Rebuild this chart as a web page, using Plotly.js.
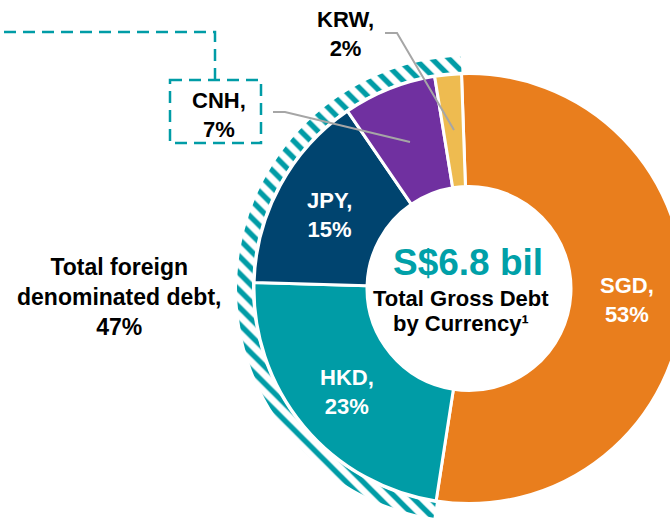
<!DOCTYPE html>
<html>
<head>
<meta charset="utf-8">
<script src="https://cdn.plot.ly/plotly-3.0.1.min.js"></script>
<style>
  html, body { margin: 0; padding: 0; overflow: hidden; background: #fff; }
  #chart { width: 720px; height: 540px; }
</style>
</head>
<body>
<div id="chart"></div>
<script>
// ---- data ----
const labels = ['SGD', 'HKD', 'JPY', 'CNH', 'KRW'];
const values = [53, 23, 15, 7, 2];
const foreignLabel = 'Total foreign';
const foreignLabel2 = 'denominated debt,';
const totalDebt = 'S$6.8 bil';
const centerLine1 = 'Total Gross Debt';
const centerLine2 = 'by Currency\u00B9';

// ---- styling ----
const colors = ['#E97E1D', '#009CA6', '#00446F', '#7030A0', '#EEBB50'];
const teal = '#009CA6';
const W = 720, H = 540;
const cx = 469, cy = 288.5;      // donut centre (px)
const R = 215, Rin = 102;        // donut radii (px)
const ringOut = 232, ringIn = 217;
const rotation = -2;
const font = 'Liberation Sans, Arial, sans-serif';

const px = x => x / W;
const py = y => 1 - y / H;

const total = values.reduce((a, b) => a + b, 0);
const foreignShare = total - values[0];

const donut = {
  type: 'pie',
  labels: labels,
  values: values,
  sort: false,
  direction: 'clockwise',
  rotation: rotation,
  hole: Rin / R,
  textinfo: 'none',
  hoverinfo: 'skip',
  showlegend: false,
  marker: { colors: colors, line: { color: '#ffffff', width: 3 } },
  domain: { x: [px(cx - R), px(cx + R)], y: [py(cy + R), py(cy - R)] }
};

const ring = {
  type: 'pie',
  labels: [labels[0], 'Foreign'],
  values: [values[0], foreignShare],
  sort: false,
  direction: 'clockwise',
  rotation: rotation,
  hole: ringIn / ringOut,
  textinfo: 'none',
  hoverinfo: 'skip',
  showlegend: false,
  marker: {
    colors: ['rgba(0,0,0,0)', '#ffffff'],
    line: { width: 0 },
    pattern: { shape: ['', '\\'], fgcolor: teal, size: 12, solidity: 0.45, fillmode: 'replace' }
  },
  domain: { x: [px(cx - ringOut), px(cx + ringOut)], y: [py(cy + ringOut), py(cy - ringOut)] }
};

// inside-slice label positions computed from the data
const midR = 158.5;
function slicePos(i) {
  let cum = 0;
  for (let k = 0; k < i; k++) cum += values[k];
  const ang = (rotation + (cum + values[i] / 2) / total * 360) * Math.PI / 180;
  return [cx + midR * Math.sin(ang), cy - midR * Math.cos(ang)];
}

const annotations = [];
[0, 1, 2].forEach(i => {
  const [x, y] = slicePos(i);
  annotations.push({
    xref: 'paper', yref: 'paper', x: px(x), y: py(y + 2), xanchor: 'center', yanchor: 'middle',
    text: labels[i] + ',<br>' + values[i] + '%', showarrow: false,
    font: { family: font, size: 22, color: '#ffffff', weight: 700 }
  });
});
// outside labels
annotations.push({
  xref: 'paper', yref: 'paper', x: px(219), y: py(115), xanchor: 'center', yanchor: 'middle',
  text: labels[3] + ',<br>' + values[3] + '%', showarrow: false,
  font: { family: font, size: 22, color: '#000000', weight: 700 }
});
annotations.push({
  xref: 'paper', yref: 'paper', x: px(345), y: py(34), xanchor: 'center', yanchor: 'middle',
  text: labels[4] + ',<br>' + values[4] + '%', showarrow: false,
  font: { family: font, size: 22, color: '#000000', weight: 700 }
});
// centre text
annotations.push({
  xref: 'paper', yref: 'paper', x: px(468), y: py(262), xanchor: 'center', yanchor: 'middle',
  text: totalDebt, showarrow: false,
  font: { family: font, size: 37, color: '#00A0A8', weight: 700 }
});
annotations.push({
  xref: 'paper', yref: 'paper', x: px(461), y: py(298), xanchor: 'center', yanchor: 'middle',
  text: centerLine1, showarrow: false,
  font: { family: font, size: 22, color: '#000000', weight: 700 }
});
annotations.push({
  xref: 'paper', yref: 'paper', x: px(461), y: py(323), xanchor: 'center', yanchor: 'middle',
  text: centerLine2, showarrow: false,
  font: { family: font, size: 22, color: '#000000', weight: 700 }
});
// foreign share label
annotations.push({
  xref: 'paper', yref: 'paper', x: px(119), y: py(297), xanchor: 'center', yanchor: 'middle',
  text: foreignLabel + '<br>' + foreignLabel2 + '<br>' + foreignShare + '%', showarrow: false,
  font: { family: font, size: 23, color: '#000000', weight: 700 }
});

const grey = { color: '#A6A6A6', width: 2 };
const dashed = { color: teal, width: 2.5, dash: '12px,7px' };
const shapes = [
  { type: 'path', xref: 'paper', yref: 'paper', line: grey,
    path: `M ${px(385)} ${py(33)} L ${px(397)} ${py(33)} L ${px(454)} ${py(130)}` },
  { type: 'path', xref: 'paper', yref: 'paper', line: grey,
    path: `M ${px(273)} ${py(112)} L ${px(285)} ${py(112)} L ${px(410)} ${py(142)}` },
  { type: 'rect', xref: 'paper', yref: 'paper', line: dashed,
    x0: px(170), x1: px(261), y0: py(80), y1: py(143) },
  { type: 'path', xref: 'paper', yref: 'paper', line: dashed,
    path: `M ${px(215)} ${py(80)} L ${px(215)} ${py(32)} L ${px(-5)} ${py(32)}` }
];

const layout = {
  width: W, height: H,
  margin: { l: 0, r: 0, t: 0, b: 0 },
  paper_bgcolor: '#ffffff', plot_bgcolor: '#ffffff',
  showlegend: false,
  annotations: annotations,
  shapes: shapes
};

Plotly.newPlot('chart', [ring, donut], layout, { staticPlot: true, displayModeBar: false });
</script>
</body>
</html>
